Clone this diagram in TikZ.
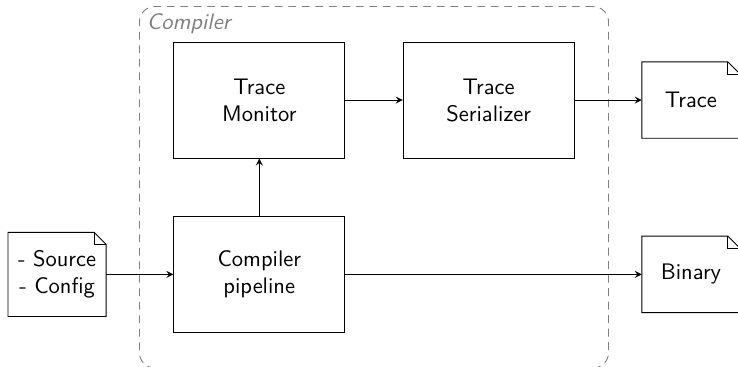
\documentclass[tikz,border=0pt]{standalone}
\usepackage{tikz}
\usetikzlibrary{shapes, arrows, calc, positioning, fit}

\begin{document}
\begin{tikzpicture}[node distance=0.9cm, auto, font=\sffamily]
    % Styles
    \tikzstyle{block} = [rectangle, draw, align=center, minimum width=2.67cm, minimum height=1.81cm]
    \tikzstyle{doc} = [rectangle, align=center, minimum width=1.52cm, minimum height=1.18cm]
    \tikzstyle{flow} = [draw, -stealth]
    \tikzstyle{group} = [draw=gray, dash pattern=on 3.5pt off 2.5pt, rounded corners=0.24cm, inner xsep=0.53cm, inner ysep=0.55cm]

    % Nodes
    \node [block] (pipe) {Compiler\\pipeline};
    \node [block, above=of pipe] (mon) {Trace\\Monitor};
    \node [block, right=of mon] (ser) {Trace\\Serializer};
    \node [doc, left=1.05cm of pipe, minimum height=1.3cm] (src) {- Source\\- Config};
    \node [doc, right=1.05cm of ser] (trc) {Trace};
    \node [doc] (bin) at (pipe -| trc) {Binary};

    % Document outlines with a folded corner
    \foreach \d in {src, trc, bin} {
        \draw (\d.south west) -- (\d.north west) -- ([xshift=-0.19cm]\d.north east) -- ([yshift=-0.19cm]\d.north east) -- (\d.south east) -- cycle;
        \draw ([xshift=-0.19cm]\d.north east) |- ([yshift=-0.19cm]\d.north east);
    }

    % Compiler group
    \node [group, fit=(mon)(ser)(pipe)] (cc) {};
    \node [anchor=north west, text=gray, font=\sffamily\itshape] (cclabel) at (cc.north west) {Compiler};

    % Paths
    \draw [flow] (src) -- (pipe);
    \draw [flow] (pipe) -- (mon);
    \draw [flow] (mon) -- (ser);
    \draw [flow] (ser) -- (trc);
    \draw [flow] (pipe) -- (bin);

    % Page cut: the output documents run past the right edge
    \pgfresetboundingbox
    \useasboundingbox (src.west |- cc.north) ++(-0.125cm,0.094cm) rectangle ++(11.53cm,-5.733cm);
\end{tikzpicture}
\end{document}
